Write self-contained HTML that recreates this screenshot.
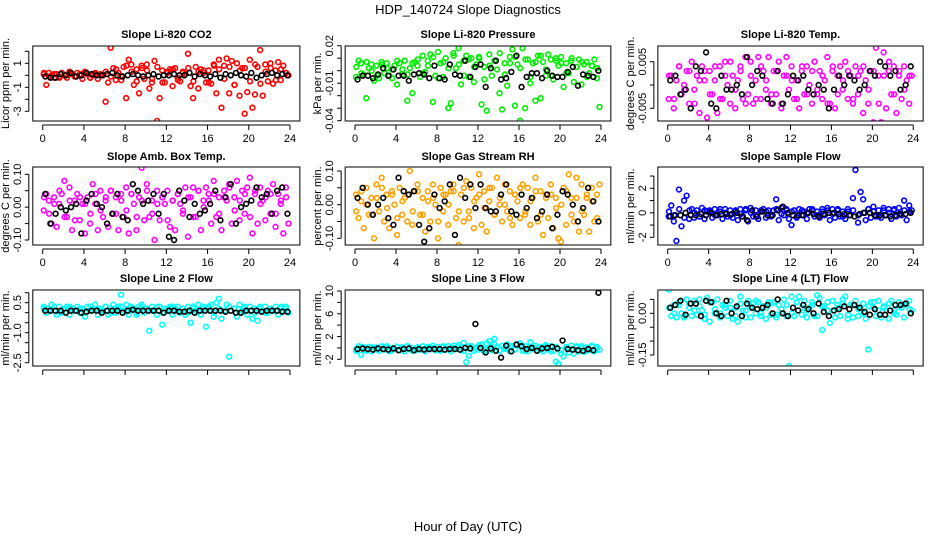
<!DOCTYPE html>
<html><head><meta charset="utf-8">
<style>
html,body{margin:0;padding:0;background:#fff;}
svg{display:block;font-family:"Liberation Sans",Arial,sans-serif;}
</style></head>
<body>
<svg id="chart" width="936" height="540" viewBox="0 0 936 540" xmlns="http://www.w3.org/2000/svg">
<rect width="936" height="540" fill="#fff"/>
<text x="468" y="14" font-size="13" text-anchor="middle">HDP_140724  Slope Diagnostics</text>
<text x="468" y="531" font-size="13" text-anchor="middle">Hour of Day (UTC)</text>
</svg>
<script>
const xTicks=[0,4,8,12,16,20,24];
const titles=["Slope Li-820 CO2","Slope Li-820 Pressure","Slope Li-820 Temp.","Slope Amb. Box Temp.","Slope Gas Stream RH","Slope Sample Flow","Slope Line 2 Flow","Slope Line 3 Flow","Slope Line 4 (LT) Flow"];
const yTitles=["Licor ppm per min.","kPa per min.","degrees C per min.","degrees C per min.","percent per min.","ml/min per min.","ml/min per min.","ml/min per min.","ml/min per min."];
const colors=["#ff0000","#00ee00","#ff00ff","#ff00ff","#ffa000","#0000ff","#00ffff","#00ffff","#00ffff"];
const yTickVals=[[-3,-2,-1,0,1,2],[-0.04,-0.03,-0.02,-0.01,0,0.01,0.02],[-0.005,0,0.005],[-0.1,-0.05,0,0.05,0.1],[-0.1,-0.05,0,0.05,0.1],[-2,-1,0,1,2,3],[-2.5,-2,-1.5,-1,-0.5,0,0.5,1],[-2,0,2,4,6,8,10],[-0.15,-0.1,-0.05,0,0.05]];
const yTickLabels=[["1","-1","-3"],["0.02","-0.01","-0.04"],["0.005","-0.005"],["0.10","0.00","-0.10"],["0.10","0.00","-0.10"],["2","0","-2"],["0.5","-1.0","-2.5"],["-2","2","6","10"],["0.00","-0.15"]];
const yTickLabelVals=[[1,-1,-3],[0.02,-0.01,-0.04],[0.005,-0.005],[0.1,0,-0.1],[0.1,0,-0.1],[2,0,-2],[0.5,-1,-2.5],[-2,2,6,10],[0,-0.15]];

const co2All=[0.1,-0.8,0.2,0,-0.2,0.1,-0.1,0.2, 0,-0.2,0.3,0.1,-0.1,0.2,0,-0.3, 0.3,0.1,-0.2,0,0.2,-0.3,0.1,0, -2.2,-0.6,2.3,0.6,-0.4,0.2,-0.1,0.7, -1.9,1.3,0.9,-0.8,0.5,-1.5,0.8,-0.3, 0.9,-1.1,-0.6,1.2,-3.8,-1.9,0.4,-0.6, 0.2,0.5,-0.9,0.6,-0.2,-0.5,0.3,0.1, 1.8,-0.9,-1.9,0.7,-1.1,0.5,0.2,-0.6, 0.4,-0.7,0.9,-1.5,1.3,-2.7,0.8,1.4, -1.5,1.2,-0.8,1.0,-1.7,0.6,-3.2,-1.4, 1.3,-2.7,-1.6,0.7,2.1,-1.7,0.9,-0.5, 1.0,-0.7,0.4,1.1,-0.4,0.8,0.2,0.0];
const co2AllB=[0.2,-0.1,0.1,-0.2,0.0,0.2,-0.1,0.1, 0.2,-0.2,0.1,0.0,0.3,-0.1,0.5,-0.4, 0.8,0.3,-0.5,0.6, 0.4,-0.3,0.7,-0.6, 0.3,0.5,-0.4,0.2, 0.6,-0.5,0.3,0.4, -0.6,0.8,0.5,-0.3, 0.7,-0.8,0.4,0.6, -0.5,0.9,-0.7,0.3, 0.6,-0.4,0.5,0.2];
const co2Hourly=[-0.1,-0.2,-0.2,0.1,0.0,0.2,-0.1,0.0,0.2,0.1,0.0,0.0,0.1,0.2,0.0,-0.1,0.0,0.1,0.0,-0.1,0.0,0.1,-0.1,0.0,0.0,0.1,0.0,0.0,0.2,-0.1,0.1,0.0,-0.1,0.1,-0.2,0.1,0.0,0.2,0.0,-0.1,0.2,-0.2,0.0,0.1,0.2,0.0,0.1,0.0];
const presAll=[-0.005,0.008,0.006,-0.003,-0.022,0.002,0.005,-0.008, 0.004,-0.006,0.007,-0.002,0.006,-0.004,0.001,0.004, -0.011,0.006,-0.003,0.008,-0.024,0.002,-0.018,0.007, 0.004,-0.005,0.012,-0.001,0.008,0.013,-0.025,-0.004, 0.015,0.006,-0.005,0.01,-0.03,-0.026,0.014,0.002, 0.018,-0.011,0.008,0.012,-0.005,0.01,-0.009,0.005, 0.011,-0.027,0.003,-0.032,0.013,-0.004,0.008,0.001, -0.018,-0.031,0.006,-0.012,0.011,0.017,-0.028,0.005, -0.04,0.018,-0.03,0.009,-0.01,0.006,-0.024,0.012, -0.022,0.007,-0.004,0.013,0.009,-0.007,0.01,0.004, 0.011,-0.013,0.006,-0.002,0.008,-0.009,0.003,0.009, -0.011,0.005,0.007,-0.002,0.004,0.009,-0.006,-0.029];
const presAllB=[0.003,-0.002,0.007,0.0,-0.004,0.005,0.002,-0.006, 0.008,0.001,-0.003,0.006, 0.009,-0.002,0.004,0.011, -0.006,0.007,0.002,0.012, 0.005,-0.004,0.009,0.003, 0.01,-0.007,0.004,0.008, 0.014,-0.003,0.006,0.011, 0.002,0.009,-0.005,0.007, 0.012,0.001,-0.004,0.008, 0.006,-0.002,0.01,0.003, 0.007,-0.005,0.004,0.002];
const presHourly=[-0.007,-0.004,-0.004,-0.006,-0.003,0.002,-0.004,0.001,-0.004,-0.004,-0.008,-0.003,-0.002,-0.003,-0.006,0.004,-0.006,-0.007,0.005,-0.003,-0.004,0.008,-0.005,0.003,0.005,-0.013,0.002,0.008,-0.007,-0.006,-0.001,0.012,-0.013,-0.005,-0.002,-0.002,-0.006,0.0,-0.004,-0.005,-0.005,-0.001,0.003,-0.012,-0.003,-0.004,-0.005,0.0];
const licorTAll=[-0.003,0.002,-0.005,0.001,0.004,-0.002,0.0,0.003, -0.004,0.005,-0.001,0.002,-0.006,0.004,0.001,-0.007, 0.003,-0.002,0.001,-0.006,0.004,-0.003,0.005,0.0, -0.004,0.002,-0.005,0.001,0.004,-0.003,0.006,-0.002, 0.005,-0.004,0.001,0.006,-0.003,0.003,-0.001,0.006, -0.004,0.003,-0.002,0.005,-0.005,0.002,0.006,-0.001, 0.004,-0.003,0.001,-0.005,0.003,-0.002,0.004,0.0, -0.004,0.005,-0.002,0.003,-0.003,0.001,0.006,-0.004, 0.003,-0.005,0.002,0.004,-0.001,0.005,-0.003,0.002, -0.004,0.004,-0.002,0.003,-0.006,0.001,-0.004,0.003, -0.008,0.008,0.002,-0.008,0.007,-0.005,0.003,-0.002, 0.004,-0.006,0.002,-0.003,0.004,0.001,-0.004,0.002];
const licorTAllB=[0.002,-0.003,0.004,-0.001,0.003,-0.004,0.001,0.003, -0.002,0.004,-0.003,0.002, 0.005,-0.001,0.003,-0.004, 0.002,-0.003,0.004,0.001, -0.002,0.003,-0.004,0.002, 0.001,-0.003,0.004,-0.002, 0.003,-0.001,0.002,-0.004, 0.004,-0.002,0.001,0.003, -0.003,0.002,0.004,-0.001, 0.003,-0.004,0.002,0.005, -0.002,0.003,-0.001,0.002];
const licorTHourly=[0.001,0.002,-0.002,-0.001,-0.005,0.004,0.003,0.007,-0.004,-0.005,0.002,-0.001,-0.001,0.0,-0.002,0.006,0.0,0.003,0.002,-0.003,-0.004,0.003,-0.004,-0.002,0.002,0.001,0.002,-0.001,-0.002,0.0,-0.001,-0.005,-0.001,0.002,0.0,0.002,0.001,-0.001,0.0,0.003,0.002,0.005,0.004,0.002,0.003,-0.001,0.0,0.004];
const boxTAll=[-0.01,0.04,0.02,-0.05,0.03,-0.06,0.01,0.04, 0.08,-0.03,0.06,-0.07,0.02,0.04,-0.04,0.01, -0.08,0.03,-0.05,0.07,0.01,-0.07,0.05,-0.03, 0.02,-0.06,0.05,-0.02,0.03,-0.07,0.04,-0.03, 0.06,-0.08,0.04,0.01,-0.07,0.03,0.12,-0.04, 0.07,-0.03,0.02,-0.1,0.05,-0.04,0.03,0.01, 0.05,-0.06,0.02,-0.07,0.04,0.01,-0.02,0.06, -0.09,0.03,0.06,-0.03,0.05,-0.07,0.02,0.06, 0.04,-0.05,0.08,-0.03,0.03,-0.07,0.05,0.02, 0.07,-0.05,0.03,0.08,-0.04,0.05,-0.02,0.06, 0.09,-0.08,0.04,-0.05,0.06,0.02,-0.04,0.05, -0.02,0.07,-0.06,0.04,0.01,-0.08,0.06,-0.05];
const boxTAllB=[0.03,-0.02,0.01,0.05,-0.03,0.02,-0.04,0.03, 0.01,-0.02,0.04,-0.01, 0.03,0.05,-0.02,0.02, -0.01,0.04,-0.03,0.02, 0.05,-0.02,0.01,0.03, -0.04,0.02,0.04,-0.01, 0.03,-0.03,0.05,0.0, 0.02,0.04,-0.02,0.03, 0.06,-0.01,0.02,0.04, -0.03,0.05,0.01,0.03, 0.04,-0.02,0.02,0.03];
const boxTHourly=[0.04,-0.05,-0.02,0.0,-0.01,0.0,0.01,-0.08,0.02,0.04,0.01,0.0,-0.05,-0.02,0.04,-0.03,-0.04,0.07,0.05,0.01,0.02,0.04,-0.02,0.04,-0.09,-0.1,0.05,0.02,-0.03,0.01,-0.02,-0.01,0.01,0.05,-0.04,0.03,0.07,-0.05,0.0,0.01,0.02,0.06,0.03,0.04,-0.02,0.05,0.06,-0.02];
const rhAll=[0.03,-0.04,0.01,-0.07,0.05,-0.03,0.02,-0.1, 0.06,-0.02,0.08,-0.05,0.03,-0.07,0.04,0.0, -0.09,0.05,-0.03,0.02,-0.05,0.1,-0.06,0.04, 0.06,-0.03,0.02,-0.08,0.04,-0.05,0.06,0.0, -0.1,0.05,-0.02,0.03,-0.06,0.04,0.06,-0.04, -0.12,0.03,-0.05,0.07,-0.02,0.05,-0.07,0.02, 0.09,-0.06,0.04,-0.08,0.01,0.05,-0.03,0.08, 0.0,-0.05,0.06,-0.02,0.04,-0.06,0.03,0.01, -0.04,0.06,-0.03,0.05,-0.06,0.02,0.08,-0.05, 0.04,-0.09,0.03,-0.04,0.06,-0.07,0.02,-0.1, -0.11,0.05,-0.06,0.09,0.02,-0.05,0.08,-0.08, 0.06,-0.03,0.02,-0.08,0.05,-0.05,0.03,0.06];
const rhAllB=[-0.02,0.04,0.0,-0.03,0.02,0.05,-0.01,0.03, -0.04,0.01,0.03,-0.02, 0.04,-0.03,0.01,0.02, -0.05,0.03,0.0,0.04, -0.02,0.05,-0.04,0.01, 0.03,-0.01,0.05,-0.03, 0.02,0.0,-0.04,0.03, 0.05,-0.02,0.01,0.04, -0.03,0.02,0.03,-0.01, 0.0,0.04,-0.03,0.02, -0.02,0.03,0.01,-0.04];
const rhHourly=[0.02,0.05,0.0,-0.03,0.0,0.02,-0.04,-0.06,0.08,0.04,0.03,0.04,-0.06,-0.11,-0.07,0.03,-0.01,0.01,0.06,-0.09,0.08,0.02,0.06,-0.01,0.06,-0.01,-0.02,-0.02,0.03,0.06,-0.02,-0.03,0.03,-0.01,0.02,-0.04,-0.02,0.03,-0.07,-0.03,0.04,0.03,0.0,-0.05,-0.01,0.05,0.01,-0.05];
const sampleAll=[-0.3,0.6,-0.7,-2.3,1.9,-1.1,1.0,1.4, -0.5,0.3,-0.4,0.2,-0.3,0.4,-0.5,0.1, 0.2,-0.4,0.3,-0.2,0.1,-0.5,0.3,-0.3, 0.2,-0.4,0.1,-0.6,0.3,-0.3,0.2,-0.7, 0.4,-0.3,0.2,-0.5,0.1,0.3,-0.4,0.2, -0.3,0.2,1.1,-0.6,0.4,-0.2,0.3,-0.5, -1.0,0.2,-0.4,0.3,-0.2,0.1,-0.5,0.3, 0.2,-0.3,0.1,-0.4,0.3,-0.2,0.4,-0.6, 0.3,-0.4,0.2,-0.3,0.1,-0.5,0.3,-0.2, 1.2,3.5,-0.8,1.7,1.1,-0.6,0.3,-0.4, 0.5,-0.3,0.2,-0.4,0.4,-0.2,0.3,-0.5, 0.2,-0.3,0.4,-0.2,1.0,-0.6,0.6,0.2];
const sampleAllB=[0.1,-0.2,0.3,-0.4,0.2,0.0,-0.3,0.2, 0.1,-0.2,0.3,0.0, -0.2,0.2,-0.1,0.3, 0.0,-0.3,0.2,0.1, -0.2,0.3,-0.1,0.2, 0.1,-0.3,0.2,0.0, 0.3,-0.2,0.1,0.2, -0.1,0.3,-0.3,0.1, 0.2,-0.2,0.0,0.3, 0.1,-0.3,0.2,0.0, 0.3,-0.1,0.2,0.1];
const sampleHourly=[-0.3,-0.2,-0.2,0.0,-0.2,-0.2,-0.1,-0.2,0.0,-0.2,-0.1,-0.1,-0.1,0.0,-0.3,-0.6,0.2,-0.3,0.1,-0.2,-0.2,0.2,0.5,0.0,-0.2,-0.2,-0.2,0.0,-0.1,-0.3,-0.1,0.0,0.0,-0.1,-0.1,-0.2,-0.3,-0.1,0.0,0.0,-0.2,-0.2,-0.2,-0.3,-0.2,-0.1,-0.1,0.0];
const line2All=[0.3,0.0,0.2,0.4,0.1,-0.1,0.3,0.0, 0.2,0.3,-0.1,0.2,0.1,0.3,0.0,0.2, -0.2,0.3,0.1,0.2,0.4,-0.1,0.2,0.1, 0.3,-0.1,0.2,0.4,0.0,0.3,0.9,0.1, 0.4,-0.1,0.3,0.2,-0.1,0.3,0.4,0.0, 0.2,-0.9,0.3,0.1,-0.1,0.3,-0.6,0.2, 0.1,0.3,-0.1,0.2,0.3,0.0,0.2,-0.1, 0.3,-0.5,0.2,0.1,0.4,-0.1,0.3,-0.7, 0.2,0.4,-0.2,0.5,0.7,-0.3,0.1,0.4, -2.2,-2.9,0.2,-0.2,0.4,0.1,0.2,-0.1, 0.3,-0.3,0.0,-0.4,0.2,0.1,0.3,0.0, 0.2,0.1,0.3,-0.1,0.2,0.1,0.3,0.0];
const line2AllB=[0.2,0.1,0.3,0.0,0.2,0.3,0.1,0.2, 0.0,0.3,0.2,0.1, 0.3,0.0,0.2,0.3, 0.1,0.2,0.0,0.3, 0.2,0.1,0.3,0.0, 0.2,0.3,0.1,0.2, 0.0,0.3,0.1,0.2, 0.3,0.0,0.2,0.1, 0.3,0.2,0.0,0.3, 0.1,0.2,0.3,0.0, 0.2,0.1,0.3,0.2];
const line2Hourly=[0.1,0.1,0.1,0.1,0.0,0.1,0.1,0.0,0.05,0.1,0.1,0.0,0.1,0.1,0.1,0.0,0.1,0.15,0.1,0.1,0.1,0.1,0.1,0.0,0.1,0.1,0.05,0.05,0.1,0.0,0.1,0.1,0.1,0.1,0.1,0.05,0.1,0.0,0.0,0.1,0.1,0.1,0.05,0.1,0.1,0.1,0.05,0.05];
const line3All=[-0.5,0.3,-1.2,0.1,-0.4,0.2,-0.6,0.0, 0.1,-0.5,0.2,-0.3,0.3,-0.6,0.0,-0.2, 0.2,-0.4,0.1,-0.6,0.3,-0.2,0.0,-0.5, 0.1,-0.3,0.3,-0.6,0.0,-0.2,0.4,-0.4, 0.2,-0.5,0.1,-0.3,0.3,-0.6,0.0,-0.2, 0.5,-0.4,0.9,-2.5,-1.4,0.3,-0.5,0.1, -0.3,0.6,-0.6,0.8,1.2,-0.4,1.6,0.2, -0.5,0.4,-0.2,0.6,-0.6,0.3,-0.3,0.5, 0.8,-0.5,0.3,-0.6,1.0,-0.2,0.4,-0.5, 0.2,-0.6,0.5,-0.3,0.3,-0.5,-2.4,-2.8, -1.0,-1.5,0.2,-0.8,0.4,-1.0,0.1,-0.6, 0.3,-0.7,0.1,-0.4,0.4,-0.6,0.2,-0.3];
const line3AllB=[-0.2,0.2,-0.5,0.1,-0.3,0.3,0.0,-0.4, 0.2,-0.1,0.3,-0.5, 0.1,-0.3,0.2,0.0, -0.4,0.3,-0.2,0.4, 0.1,-0.5,0.3,-0.1, 0.5,-0.3,0.2,0.6, -0.4,0.1,0.3,-0.2, 0.4,-0.5,0.2,0.0, -0.3,0.3,-0.6,0.2, -0.4,0.1,-0.2,0.3, 0.0,-0.4,0.2,-0.1];
const line3Hourly=[-0.2,-0.1,-0.2,-0.3,-0.1,-0.2,-0.3,-0.1,-0.4,-0.2,-0.1,-0.4,-0.2,-0.3,-0.2,-0.2,-0.2,-0.3,-0.2,-0.2,-0.3,0.0,-0.1,4.2,0.0,-0.8,-0.1,-0.5,-1.7,0.4,-0.6,0.6,0.3,-0.2,0.0,-0.5,-0.1,0.0,0.2,-0.1,1.3,-0.2,-0.3,-0.4,-0.5,-0.2,-0.4,9.7];
const line4All=[0.085,-0.01,0.03,-0.015,0.04,0.0,-0.015,0.05, 0.02,-0.01,0.045,-0.005,0.05,0.01,-0.02,0.055, -0.03,0.04,0.0,0.05,-0.015,0.03,0.02,-0.01, 0.045,-0.02,0.02,-0.03,0.06,0.01,-0.015,0.045, -0.015,0.035,0.0,0.04,-0.01,0.025,-0.02,0.04, -0.005,0.04,-0.015,0.03,0.0,0.05,-0.01,-0.19, 0.06,-0.01,0.04,0.06,-0.005,0.045,-0.015,0.02, 0.04,-0.01,0.065,0.055,-0.06,0.025,0.01,-0.035, 0.045,-0.015,0.03,-0.01,0.05,0.06,-0.02,0.03, -0.015,0.045,-0.01,0.02,0.035,-0.02,-0.13,0.04, 0.02,-0.01,0.045,-0.015,0.025,0.01,-0.02,0.045, 0.01,-0.005,0.04,0.02,-0.015,0.035,0.045,0.01];
const line4AllB=[0.02,0.0,0.03,-0.01,0.035,0.01,0.025,-0.005, 0.04,0.015,0.0,0.03, 0.02,-0.01,0.035,0.01, 0.025,0.045,0.0,0.02, 0.035,-0.005,0.015,0.03, 0.0,0.04,0.02,0.01, 0.03,-0.01,0.025,0.04, 0.01,0.02,0.035,-0.005, 0.03,0.015,0.0,0.025, 0.04,0.01,0.02,0.035, 0.0,0.025,0.03,0.015];
const line4Hourly=[0.02,0.03,0.045,-0.005,0.035,0.035,-0.01,0.045,0.04,0.0,-0.01,0.045,0.0,0.025,-0.01,0.035,0.02,0.015,0.02,0.03,0.0,0.05,0.0,-0.01,0.02,0.01,0.03,0.015,0.0,0.035,0.005,-0.01,0.01,0.015,0.025,0.015,0.03,0.02,0.005,-0.005,0.015,-0.005,-0.005,0.01,0.03,0.03,0.035,0.0];

const allSeries=[co2All,presAll,licorTAll,boxTAll,rhAll,sampleAll,line2All,line3All,line4All];
const allSeriesB=[co2AllB,presAllB,licorTAllB,boxTAllB,rhAllB,sampleAllB,line2AllB,line3AllB,line4AllB];
const hourlySeries=[co2Hourly,presHourly,licorTHourly,boxTHourly,rhHourly,sampleHourly,line2Hourly,line3Hourly,line4Hourly];

// layout (pixels, not data)
const cols=[{x0:42.7,x24:290},{x0:355,x24:601},{x0:667.7,x24:913.3}];
const rows=[{top:46,bot:121,tt:38},{top:167,bot:245,tt:160},{top:290,bot:366,tt:282}];
const yCal=[[1,63.3,-1,87.3],[0.02,45.7,-0.04,120.7],[0.005,61.7,-0.005,108.3],[0.1,174.3,-0.1,240],[0.1,171,-0.1,238.3],[2,188.3,-2,237.3],[0.5,302.7,-2.5,362.7],[10,291,-2,359.3],[0,313.3,-0.15,355]];
const slugs=["co2","pressure","licor-temp","box-temp","gas-rh","sample-flow","line2-flow","line3-flow","line4-flow"];

const NS="http://www.w3.org/2000/svg";
const svg=document.getElementById('chart');
function mk(tag,attrs,parent){const e=document.createElementNS(NS,tag);for(const k in attrs)e.setAttribute(k,attrs[k]);parent.appendChild(e);return e;}

for(let p=0;p<9;p++){
  const c=cols[p%3], r=rows[Math.floor(p/3)], cal=yCal[p];
  const xs=h=>c.x0+(c.x24-c.x0)*h/24;
  const ys=v=>cal[1]+(v-cal[0])*(cal[3]-cal[1])/(cal[2]-cal[0]);
  const g=mk('g',{},svg);
  
  
  const L=xs(-0.96), R=xs(24.96);
  const clipId='clip'+p;
  const cp=mk('clipPath',{id:clipId},g);
  mk('rect',{x:L,y:r.top,width:R-L,height:r.bot-r.top},cp);
  const pts=mk('g',{'clip-path':'url(#'+clipId+')'},g);
  
  
  const a=allSeries[p];
  for(let i=0;i<a.length;i++){
    const h=(i+0.4)*24/a.length;
    const ci=mk('circle',{cx:xs(h),cy:ys(a[i]),r:2.4,fill:'none',stroke:colors[p],'stroke-width':1.6},pts);
    
    
  }
  const a2=allSeriesB[p];
  for(let i=0;i<a2.length;i++){
    const h=(i+0.25)*24/a2.length;
    const ci=mk('circle',{cx:xs(h),cy:ys(a2[i]),r:2.4,fill:'none',stroke:colors[p],'stroke-width':1.6},pts);
    
    
  }
  const b=hourlySeries[p];
  for(let i=0;i<b.length;i++){
    const h=(i+0.5)*24/b.length;
    const ci=mk('circle',{cx:xs(h),cy:ys(b[i]),r:2.4,fill:'none',stroke:'#000','stroke-width':1.6},pts);
    
    
  }
  const bx=mk('rect',{x:L,y:r.top,width:R-L,height:r.bot-r.top,fill:'none',stroke:'#000','stroke-width':1},g);
  
  
  const t=mk('text',{x:(L+R)/2,y:r.tt,'font-size':11,'font-weight':'bold','text-anchor':'middle'},g);
  t.textContent=titles[p];
  
  
  const xa=mk('g',{},g);
  
  
  mk('line',{x1:xs(0),x2:xs(24),y1:r.bot+4,y2:r.bot+4,stroke:'#000'},xa);
  for(const tv of xTicks){
    mk('line',{x1:xs(tv),x2:xs(tv),y1:r.bot+4,y2:r.bot+9,stroke:'#000'},xa);
    if(p<6){
      const tl=mk('text',{x:xs(tv),y:r.bot+21,'font-size':11,'text-anchor':'middle'},xa);
      tl.textContent=String(tv);
      
      
    }
  }
  const ya=mk('g',{},g);
  
  
  const tv=yTickVals[p];
  const ax=L-4;
  mk('line',{x1:ax,x2:ax,y1:ys(tv[0]),y2:ys(tv[tv.length-1]),stroke:'#000'},ya);
  for(const v of tv) mk('line',{x1:ax,x2:ax-4,y1:ys(v),y2:ys(v),stroke:'#000'},ya);
  const lv=yTickLabelVals[p], lt=yTickLabels[p];
  for(let i=0;i<lv.length;i++){
    const yy=ys(lv[i]), xx=ax-8;
    const tl=mk('text',{x:xx,y:yy,'font-size':11,'text-anchor':'middle',transform:'rotate(-90 '+xx+' '+yy+')'},ya);
    tl.textContent=lt[i];
    
    
  }
  const ym=(r.top+r.bot)/2, yx=L-24;
  const yt=mk('text',{x:yx,y:ym,'font-size':11,'text-anchor':'middle',transform:'rotate(-90 '+yx+' '+ym+')'},g);
  yt.textContent=yTitles[p];
  
  
}
</script>
</body></html>
